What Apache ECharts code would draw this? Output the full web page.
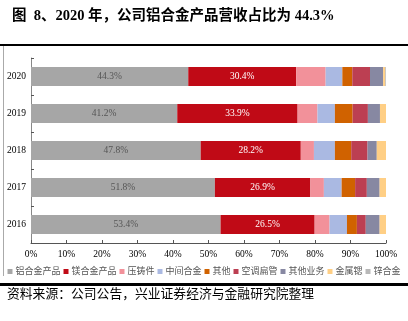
<!DOCTYPE html>
<html>
<head>
<meta charset="utf-8">
<script src="https://cdn.jsdelivr.net/npm/echarts@6/dist/echarts.min.js"></script>
<style>
html,body{margin:0;padding:0;background:#fff;}
#c{width:408px;height:321px;}
</style>
</head>
<body>
<div id="c"></div>
<script>
const years = ['2016', '2017', '2018', '2019', '2020'];
const seriesNames = ['铝合金产品', '镁合金产品', '压铸件', '中间合金', '其他', '空调扁管', '其他业务', '金属锶', '锌合金'];
const aluminum = [53.4, 51.8, 47.8, 41.2, 44.3];
const magnesium = [26.5, 26.9, 28.2, 33.9, 30.4];
const dieCasting = [4.2, 3.8, 3.7, 5.6, 8.3];
const masterAlloy = [4.9, 5.0, 5.9, 4.9, 4.7];
const other = [2.8, 3.8, 4.6, 5.0, 2.8];
const acTube = [2.5, 3.3, 4.6, 4.3, 5.0];
const otherBusiness = [3.9, 3.6, 2.6, 3.4, 3.7];
const strontium = [1.8, 1.8, 2.6, 1.7, 0.6];
const zinc = [0, 0, 0, 0, 0.2];
const xTicks = [0, 10, 20, 30, 40, 50, 60, 70, 80, 90, 100];

const values = [aluminum, magnesium, dieCasting, masterAlloy, other, acTube, otherBusiness, strontium, zinc];
const colors = ['#A6A6A6', '#C00A16', '#F2919A', '#AAB9E2', '#D06200', '#BC3F52', '#8788A2', '#FFCF85', '#B8B8B8'];
const serif = '"Liberation Serif", "Noto Sans CJK SC", serif';

const series = values.map((v, i) => {
  const s = {
    name: seriesNames[i],
    type: 'bar',
    stack: 'total',
    barWidth: 19,
    data: v,
    itemStyle: { color: colors[i] },
    emphasis: { disabled: true }
  };
  if (i < 2) {
    s.label = {
      show: true,
      position: 'inside',
      formatter: p => p.value.toFixed(1) + '%',
      color: i === 0 ? '#555' : '#fff',
      fontFamily: serif,
      fontSize: 9.5
    };
  }
  return s;
});

const chart = echarts.init(document.getElementById('c'));
chart.setOption({
  animation: false,
  backgroundColor: '#fff',
  title: {
    text: '图  8、2020 年，公司铝合金产品营收占比为 44.3%',
    left: 7,
    top: 4,
    textStyle: { fontFamily: serif, fontSize: 14.5, fontWeight: 'bold', color: '#000' }
  },
  graphic: [
    { type: 'rect', shape: { x: 0, y: 44, width: 408, height: 2 }, style: { fill: '#000' } },
    { type: 'rect', shape: { x: 3, y: 46, width: 1, height: 230 }, style: { fill: '#aaa' } },
    { type: 'rect', shape: { x: 0, y: 283, width: 408, height: 3 }, style: { fill: '#000' } },
    {
      type: 'text', left: 7, top: 288,
      style: { text: '资料来源：公司公告，兴业证券经济与金融研究院整理', font: '12.8px ' + serif, fill: '#000' }
    }
  ],
  grid: { left: 31, right: 22, top: 58, bottom: 78, containLabel: false },
  legend: {
    data: seriesNames,
    left: 'center',
    top: 262,
    itemWidth: 5,
    itemHeight: 5,
    itemGap: 3,
    icon: 'rect',
    textStyle: { fontFamily: serif, fontSize: 9, color: '#555', padding: [0, 0, 0, -2] }
  },
  xAxis: {
    type: 'value',
    min: 0,
    max: 100,
    interval: 10,
    axisLine: { show: true, lineStyle: { color: '#555' } },
    axisTick: { show: true, inside: true, length: 3, lineStyle: { color: '#555' } },
    splitLine: { show: false },
    axisLabel: {
      formatter: v => (xTicks.indexOf(v) >= 0 ? v + '%' : ''),
      fontFamily: serif, fontSize: 9.5, color: '#000', margin: 7
    }
  },
  yAxis: {
    type: 'category',
    data: years,
    axisLine: { show: true, lineStyle: { color: '#888' } },
    axisTick: { show: true, inside: true, length: 3, lineStyle: { color: '#555' } },
    axisLabel: { fontFamily: serif, fontSize: 9.5, color: '#000', margin: 5 }
  },
  series: series
});
</script>
</body>
</html>
